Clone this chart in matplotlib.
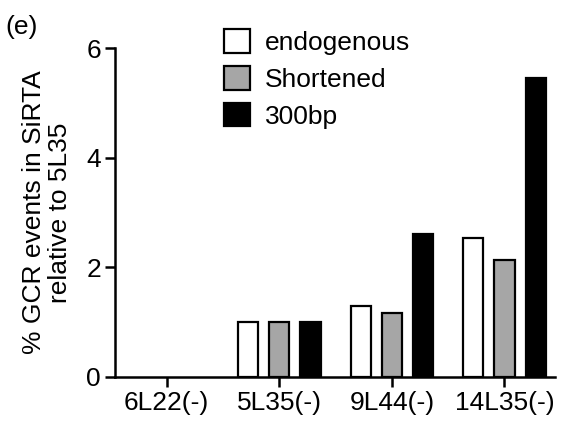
import numpy as np
import matplotlib.pyplot as plt

plt.rcParams['font.family'] = ['Liberation Sans', 'DejaVu Sans']

strains = ['6L22(-)', '5L35(-)', '9L44(-)', '14L35(-)']
endogenous = [0.0, 1.0, 1.29, 2.53]
shortened = [0.0, 1.0, 1.16, 2.13]
bp300 = [0.0, 1.0, 2.6, 5.45]

series = [('endogenous', endogenous, 'white'),
          ('Shortened', shortened, '#a6a6a6'),
          ('300bp', bp300, 'black')]

fig = plt.figure(figsize=(5.63, 4.22), dpi=100)
ax = fig.add_axes([0.204, 0.107, 0.782, 0.779])

x = np.arange(len(strains))
w = 0.18
step = 0.277
handles = []
for i, (name, vals, col) in enumerate(series):
    # zero-height bars get no outline
    lws = [1.6 if v > 0 else 0 for v in vals]
    b = ax.bar(x + (i - 1) * step, vals, width=w, color=col,
               edgecolor='black', linewidth=lws, label=name)
    handles.append(b)

ax.set_xlim(-0.46, 3.45)
ax.set_ylim(0, 6)
ax.set_yticks([0, 2, 4, 6])
ax.set_xticks(x)
ax.set_xticklabels(strains)
ax.tick_params(labelsize=19, width=1.8, length=7, direction='out', pad=3)
for s in ['top', 'right']:
    ax.spines[s].set_visible(False)
for s in ['left', 'bottom']:
    ax.spines[s].set_linewidth(1.8)

ax.set_ylabel('% GCR events in SiRTA\nrelative to 5L35', fontsize=19,
              linespacing=1.1)
ax.yaxis.set_label_coords(-0.098, 0.5)

leg = fig.legend(handles=handles, loc='upper left',
                 bbox_to_anchor=(224 / 563, 1 - 29 / 422), frameon=False,
                 fontsize=19, handlelength=1.0, handleheight=1.0,
                 handletextpad=0.55, labelspacing=0.42, borderpad=0,
                 borderaxespad=0)
for h in leg.legend_handles:
    h.set_linewidth(1.6)

fig.text(5 / 563, 1 - 15 / 422, '(e)', fontsize=19, va='top', ha='left')

fig.savefig('out.png', dpi=100)
